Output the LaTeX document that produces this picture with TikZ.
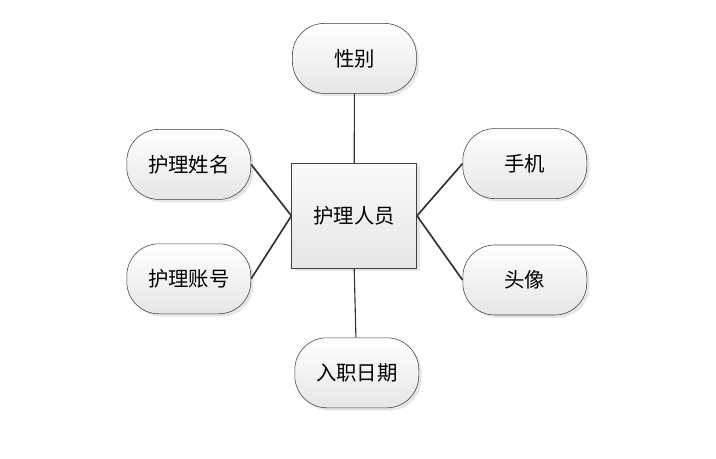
\documentclass[tikz,border=0pt]{standalone}
\usepackage{fontspec}
\newfontfamily\cjk{Noto Sans CJK SC}
\usepackage{tikz}
\usetikzlibrary{shadows}

\begin{document}
\begin{tikzpicture}[
  attr/.style={rectangle,draw=black!75,rounded corners=0.8cm,minimum width=3.1cm,minimum height=1.75cm,
    top color=white,bottom color=black!10,drop shadow={opacity=0.2,shadow xshift=0.07,shadow yshift=-0.07},
    font=\cjk\fontsize{14.5}{16}\selectfont},
  ent/.style={rectangle,draw=black!75,minimum width=3.125cm,minimum height=2.625cm,
    top color=black!2,bottom color=black!10,drop shadow={opacity=0.2,shadow xshift=0.07,shadow yshift=-0.07},
    font=\cjk\fontsize{14.5}{16}\selectfont},
  link/.style={draw=black!80,line width=1.2pt}]
  \useasboundingbox (0,0) rectangle (17.9,11.45);
  \node[ent] (nurse) at (8.855,6.055) {护理人员};
  \node[attr] (sex) at (8.86,9.99) {性别};
  \node[attr] (name) at (4.72,7.34) {护理姓名};
  \node[attr] (account) at (4.72,4.48) {护理账号};
  \node[attr] (phone) at (13.12,7.36) {手机};
  \node[attr] (avatar) at (13.12,4.45) {头像};
  \node[attr] (date) at (8.92,2.13) {入职日期};
  \draw[link,line width=0.8pt] (sex) -- (nurse);
  \draw[link,line width=0.8pt] (date) -- (nurse.south);
  \draw[link] (name.east) -- (nurse.west);
  \draw[link] (account.east) -- (nurse.west);
  \draw[link] (phone.west) -- (nurse.east);
  \draw[link] (avatar.west) -- (nurse.east);
\end{tikzpicture}
\end{document}
